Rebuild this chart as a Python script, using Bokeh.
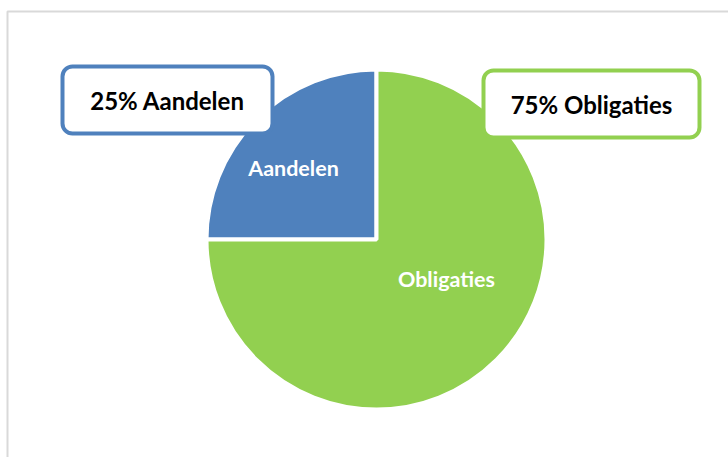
import math
from bokeh.plotting import figure
from bokeh.models import Range1d, ColumnDataSource
from bokeh.core.properties import value
from bokeh.embed import file_html
from bokeh.resources import INLINE

# Data
categories = ["Aandelen", "Obligaties"]
percentages = [25, 75]
colors = ["#4F81BD", "#92D050"]
box_labels = ["25% Aandelen", "75% Obligaties"]

W, H = 728, 457

def fy(y):
    return H - y

p = figure(width=W, height=H, output_backend="svg", toolbar_location=None,
           x_range=Range1d(0, W), y_range=Range1d(0, H), min_border=0)
p.axis.visible = False
p.grid.visible = False
p.outline_line_color = None
p.background_fill_color = "white"
p.border_fill_color = "white"

# chart frame (partially outside the window)
p.quad(left=[7], right=[760], top=[fy(11)], bottom=[fy(490)],
       fill_color=None, line_color="#D9D9D9", line_width=2)

# pie: anticlockwise from top
cx, cy, r = 376, fy(239), 170
total = sum(percentages)
starts, ends = [], []
a = math.pi / 2
for v in percentages:
    starts.append(a)
    a += 2 * math.pi * v / total
    ends.append(a)
src = ColumnDataSource(dict(cat=categories, start=starts, end=ends, color=colors))
p.wedge(x=cx, y=cy, radius=r, start_angle="start", end_angle="end",
        fill_color="color", line_color="white", line_width=4, source=src)

# in-slice labels
slice_lx = [293, 446]
slice_ly = [fy(167), fy(278)]
p.text(x=slice_lx, y=slice_ly, text=categories, text_color="white",
       text_font=value("Lato"), text_font_style="bold", text_font_size="21.5px",
       text_align="center", text_baseline="middle")

# callout boxes
bx = [(60 + 274) / 2, (481 + 701) / 2]
by = [fy((64 + 135) / 2), fy((68 + 139) / 2)]
bw = [274 - 60 - 4, 701 - 481 - 4]
bh = [135 - 64 - 4, 139 - 68 - 4]
p.rect(x=bx, y=by, width=bw, height=bh, fill_color="white",
       line_color=colors, line_width=4, border_radius=10)
p.text(x=bx, y=by, text=box_labels, text_color="black",
       text_font=value("Lato"), text_font_style="bold", text_font_size="24px",
       text_align="center", text_baseline="middle")

open("out.html", "w").write(file_html(p, INLINE))
